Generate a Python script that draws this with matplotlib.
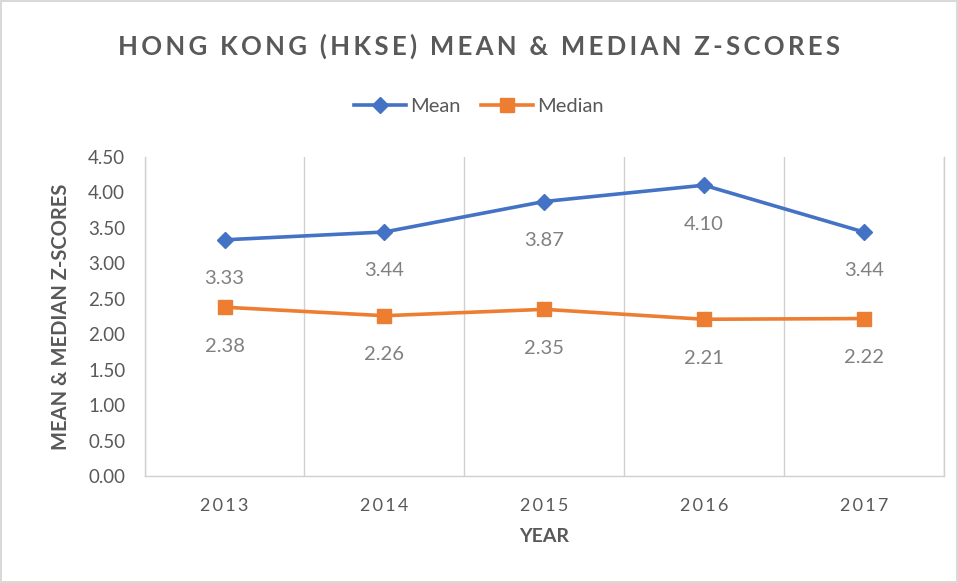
import matplotlib
matplotlib.use('Agg')
import matplotlib.pyplot as plt
import numpy as np

# data
years = ['2013', '2014', '2015', '2016', '2017']
mean_scores = [3.33, 3.44, 3.87, 4.10, 3.44]
median_scores = [2.38, 2.26, 2.35, 2.21, 2.22]
y_ticks = [0.0, 0.5, 1.0, 1.5, 2.0, 2.5, 3.0, 3.5, 4.0, 4.5]

plt.rcParams['font.family'] = ['Lato', 'DejaVu Sans']

BLUE = '#4472C4'
ORANGE = '#ED7D31'
GRAY_TXT = '#595959'
LABEL_TXT = '#808080'
GRID = '#D0D0D0'


def spaced(s, sep='\u2009'):
    # letter spacing like the Excel title / axis labels
    return sep.join(s)


fig = plt.figure(figsize=(9.58, 5.83), dpi=100)
fig.patch.set_facecolor('white')
fig.patch.set_edgecolor('#D9D9D9')
fig.patch.set_linewidth(1.5)

ax = fig.add_axes([0.151, 0.1835, 0.834, 0.5475])
x = np.arange(len(years))

ax.plot(x, mean_scores, '-D', color=BLUE, linewidth=2.6, markersize=8,
        label='Mean', zorder=3)
ax.plot(x, median_scores, '-s', color=ORANGE, linewidth=2.6, markersize=10,
        label='Median', zorder=3)

for xi, v in zip(x, mean_scores):
    ax.annotate(f'{v:.2f}', xy=(xi, v), xytext=(0, -28), textcoords='offset points',
                ha='center', va='center', fontsize=14.5, color=LABEL_TXT)
for xi, v in zip(x, median_scores):
    ax.annotate(f'{v:.2f}', xy=(xi, v), xytext=(0, -28), textcoords='offset points',
                ha='center', va='center', fontsize=14.5, color=LABEL_TXT)

ax.set_xlim(-0.5, len(years) - 0.5)
ax.set_ylim(0, 4.5)
ax.set_yticks(y_ticks)
ax.set_yticklabels([f'{t:.2f}' for t in y_ticks], fontsize=13.5, color=GRAY_TXT)
ax.set_xticks(x)
ax.set_xticklabels([spaced(y) for y in years], fontsize=13, color=GRAY_TXT)
ax.tick_params(axis='x', length=0, pad=16)
ax.tick_params(axis='y', length=0, pad=14)

# vertical gridlines between categories (Excel style)
ax.set_xticks(np.arange(-0.5, len(years)), minor=True)
ax.grid(which='minor', axis='x', color=GRID, linewidth=1)
ax.tick_params(which='minor', length=0)

ax.spines['top'].set_visible(False)
for side in ['left', 'right', 'bottom']:
    ax.spines[side].set_color(GRID)
    ax.spines[side].set_linewidth(1)

ax.set_xlabel('YEAR', fontsize=14, fontweight='bold', color=GRAY_TXT, labelpad=10)
ax.set_ylabel('MEAN & MEDIAN Z-SCORES', fontsize=14.5, fontweight='bold',
              color=GRAY_TXT, labelpad=12)

fig.text(0.5, 0.92, spaced('HONG KONG (HKSE) MEAN & MEDIAN Z-SCORES'),
         ha='center', va='center', fontsize=18.5, fontweight='bold', color=GRAY_TXT)

leg = fig.legend(loc='center', bbox_to_anchor=(0.5, 0.818), ncol=2, frameon=False,
                 fontsize=14.5, handlelength=2.6, columnspacing=1.0, handletextpad=0.2)
for t in leg.get_texts():
    t.set_color(GRAY_TXT)

plt.savefig('out.png', dpi=100, facecolor=fig.get_facecolor(),
            edgecolor=fig.get_edgecolor())
